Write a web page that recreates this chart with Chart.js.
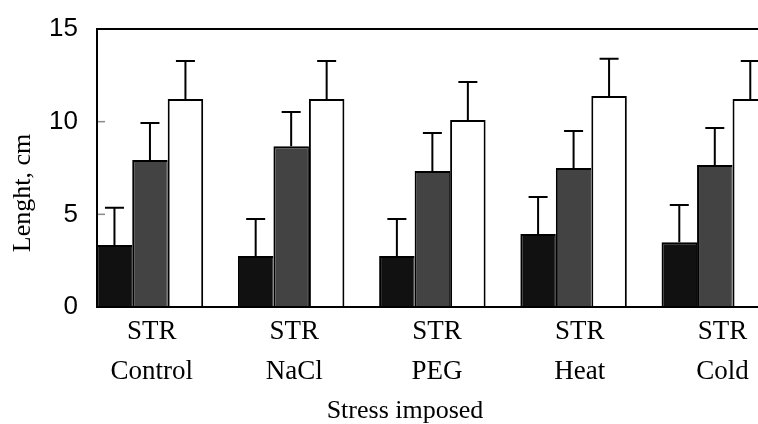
<!DOCTYPE html>
<html>
<head>
<meta charset="utf-8">
<script src="https://cdn.jsdelivr.net/npm/chart.js@4"></script>
<style>
  body { margin: 0; background: #fff; }
  #wrap { width: 758px; height: 424px; }
</style>
</head>
<body>
<div id="wrap"><canvas id="chart" width="758" height="424"></canvas></div>
<script>
// categories on the x axis
const categories = ['Control', 'NaCl', 'PEG', 'Heat', 'Cold'];
// every group has the same upper label
const groupLabel = 'STR';

// bar heights (cm)
const blackValues = [3.35, 2.75, 2.75, 3.94, 3.5];
const greyValues = [7.93, 8.67, 7.34, 7.5, 7.66];
const whiteValues = [11.22, 11.22, 10.09, 11.39, 11.22];

// error bar sizes (upper only)
const blackErrors = [2.0, 2.0, 2.0, 2.0, 2.0];
const greyErrors = [2.0, 1.85, 2.05, 2.0, 2.0];
const whiteErrors = [2.06, 2.06, 2.05, 2.0, 2.06];

// y axis ticks
const yTicks = [0, 5, 10, 15];

const serif = '"Liberation Serif", "Times New Roman", serif';
const sans = '"Liberation Sans", Arial, sans-serif';

// turn a value list into {x, y} points for the linear x axis
function toPoints(values) {
    return values.map((v, i) => ({ x: i, y: v }));
}

// draws the upper error bars on top of each bar
const errorBars = {
    id: 'errorBars',
    afterDatasetsDraw(chart) {
        const ctx = chart.ctx;
        const y = chart.scales.y;
        chart.data.datasets.forEach((ds, i) => {
            const meta = chart.getDatasetMeta(i);
            meta.data.forEach((bar, j) => {
                const val = ds.data[j].y;
                const top = y.getPixelForValue(val);
                const cap = y.getPixelForValue(val + ds.errors[j]);
                ctx.save();
                ctx.strokeStyle = '#000';
                ctx.lineWidth = 2;
                ctx.beginPath();
                ctx.moveTo(bar.x, top);
                ctx.lineTo(bar.x, cap);
                ctx.moveTo(bar.x - 9.5, cap);
                ctx.lineTo(bar.x + 9.5, cap);
                ctx.stroke();
                ctx.restore();
            });
        });
    }
};

// small grey tick marks on the inside of the y axis, plus the axis titles
// (the titles sit off-centre in the original, so they are drawn here)
const axisExtras = {
    id: 'axisExtras',
    afterDraw(chart) {
        const ctx = chart.ctx;
        const y = chart.scales.y;
        const left = chart.chartArea.left;
        ctx.save();
        ctx.strokeStyle = '#8a8a8a';
        ctx.lineWidth = 1.5;
        yTicks.filter(v => v !== 0 && v !== 15).forEach(v => {
            const py = y.getPixelForValue(v);
            ctx.beginPath();
            ctx.moveTo(left + 1, py);
            ctx.lineTo(left + 8, py);
            ctx.stroke();
        });

        ctx.fillStyle = '#000';
        ctx.font = '26px ' + serif;
        ctx.textAlign = 'center';
        ctx.textBaseline = 'alphabetic';
        ctx.fillText('Stress imposed', 405, 418);
        ctx.translate(30, 193);
        ctx.rotate(-Math.PI / 2);
        ctx.fillText('Lenght, cm', 0, 0);
        ctx.restore();
    }
};

const chart = new Chart(document.getElementById('chart'), {
    type: 'bar',
    data: {
        datasets: [
            {
                label: 'black',
                data: toPoints(blackValues),
                errors: blackErrors,
                backgroundColor: '#111111',
                borderColor: '#000',
                borderWidth: { left: 2, right: 1, top: 2, bottom: 0 }
            },
            {
                label: 'grey',
                data: toPoints(greyValues),
                errors: greyErrors,
                backgroundColor: '#434343',
                borderColor: '#000',
                borderWidth: { left: 2, right: 1, top: 2, bottom: 0 }
            },
            {
                label: 'white',
                data: toPoints(whiteValues),
                errors: whiteErrors,
                backgroundColor: '#ffffff',
                borderColor: '#000',
                borderWidth: { left: 2, right: 2, top: 2, bottom: 0 }
            }
        ]
    },
    options: {
        responsive: false,
        animation: false,
        categoryPercentage: 0.754,
        barPercentage: 1.0,
        layout: { padding: { top: 29, left: 0, right: 0, bottom: 0 } },
        plugins: {
            legend: { display: false },
            tooltip: { enabled: false }
        },
        scales: {
            // positions the bars
            x: {
                type: 'linear',
                position: 'bottom',
                offset: false,
                min: -0.375,
                max: 4.306,
                afterBuildTicks: axis => { axis.ticks = categories.map((c, i) => ({ value: i })); },
                afterFit: axis => { axis.height = 0; },
                ticks: { display: false },
                grid: { display: false, offset: false },
                border: { display: false }
            },
            // carries the two-line labels
            xl: {
                type: 'linear',
                position: 'bottom',
                offset: false,
                min: -0.383,
                max: 4.249,
                afterBuildTicks: axis => { axis.ticks = categories.map((c, i) => ({ value: i })); },
                afterFit: axis => { axis.height = 117; },
                ticks: {
                    color: '#000',
                    padding: 5,
                    maxRotation: 0,
                    autoSkip: false,
                    font: { family: serif, size: 27, lineHeight: 1.48 },
                    callback: (value) => [groupLabel, categories[value]]
                },
                grid: { display: false, drawTicks: false, offset: false },
                border: { display: false }
            },
            y: {
                min: 0,
                max: 15,
                z: 1,
                afterBuildTicks: axis => { axis.ticks = yTicks.map(v => ({ value: v })); },
                afterFit: axis => {
                    axis.width = 97;
                    // the "15" label may stick out above the plot, as in the original
                    axis.paddingTop = 0;
                    axis.paddingBottom = 0;
                },
                ticks: {
                    color: '#000',
                    padding: 19,
                    font: { family: sans, size: 26 }
                },
                grid: {
                    lineWidth: 2,
                    drawTicks: false,
                    color: ctx => (ctx.tick && (ctx.tick.value === 0 || ctx.tick.value === 15)) ? '#000' : 'rgba(0,0,0,0)'
                },
                border: { display: true, color: '#000', width: 2 }
            }
        }
    },
    plugins: [errorBars, axisExtras]
});
</script>
</body>
</html>
